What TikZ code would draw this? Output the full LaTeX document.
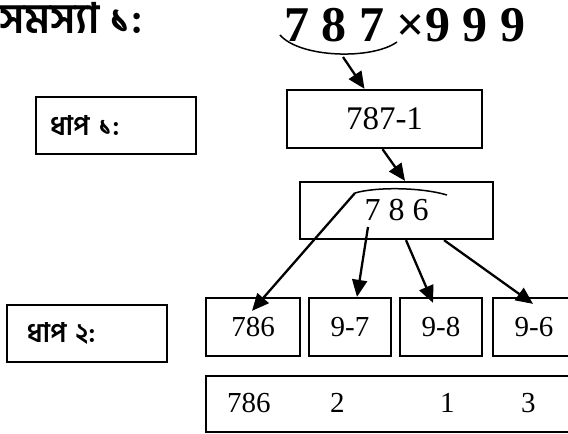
\documentclass[tikz,border=0pt]{standalone}
\usepackage{fontspec}
\setmainfont{Liberation Serif}
\newfontfamily\bnfont[Script=Bengali]{Hind Siliguri}
\usetikzlibrary{arrows.meta, positioning}
\tikzset{
  every picture/.style={line width=2.3pt},
  box/.style={draw, inner sep=0pt, minimum width=#1, minimum height=58pt},
  box/.default=82pt,
  arrow/.style={-{Triangle[length=17pt, width=15pt]}, line width=2.3pt},
  curl/.style={line width=1.5pt},
  num/.style={font=\fontsize{29}{34}\selectfont},
  steplabel/.style={draw, minimum width=160pt, minimum height=57pt, inner ysep=0pt, align=left, font=\bnfont\bfseries\fontsize{27}{32}\selectfont},
}

\begin{document}
\begin{tikzpicture}[x=1pt, y=1pt]
  \useasboundingbox (0,0) rectangle (568,434);
  % heading and the product
  \node[font=\bnfont\bfseries\fontsize{42}{50}\selectfont, anchor=base west, inner sep=0pt] (title) at (-2,400) {সমস্যা ১:};
  \node[font=\bfseries\fontsize{50}{60}\selectfont, anchor=base west, inner sep=0pt] (prod) at (283,392) {7 8 7 ×9 9 9};
  \coordinate (arcfoot) at (343,377);
  \draw[curl] (280,399) .. controls (300,376) and (372,374) .. (397,392);
  % step 1
  \node[steplabel, inner xsep=14pt, text width=132pt] (lab1) at (116,308.5) {ধাপ ১:};
  \node[box=195pt, font=\fontsize{33}{40}\selectfont] (sub) at (384.5,315) {787-1};
  \node[box=193pt, minimum height=57pt, font=\fontsize{32}{38}\selectfont] (mid) at (396.5,223.5) {7 8 6};
  \coordinate (arcleft) at (355,241);
  \coordinate (sevenfoot) at (368,207);
  \draw[curl] (arcleft) .. controls (375,247) and (420,247) .. (447,239);
  \draw[arrow] (arcfoot) -- ([xshift=-20pt]sub.north);
  \draw[arrow] ([xshift=-2pt]sub.south) -- ([xshift=8.5pt]mid.north);
  % step 2
  \node[steplabel, inner xsep=20pt, text width=120pt] (lab2) at (87,100.5) {ধাপ ২:};
  \node[box=94pt, num] (r1) at (253,107) {786};
  \node[box, num] (r2) at (350,107) {9-7};
  \node[box, num] (r3) at (441,107) {9-8};
  \node[box, num] (r4) at (534,107) {9-6};
  \draw[arrow] (arcleft) -- ([shift={(-1pt,-14pt)}]r1.north);
  \draw[arrow] (sevenfoot) -- ([xshift=7pt]r2.north);
  \draw[arrow] ([xshift=9.5pt]mid.south) -- ([shift={(-8pt,-6pt)}]r3.north);
  \draw[arrow] ([xshift=47.5pt]mid.south) -- ([shift={(-1pt,-7pt)}]r4.north);
  % result row
  \node[box=374pt, minimum height=56pt] (res) at (393,30) {};
  \node[num, anchor=base west, inner sep=0pt] (d1) at (226,21) {786};
  \node[num, anchor=base west, inner sep=0pt] (d2) at (329,21) {2};
  \node[num, anchor=base west, inner sep=0pt] (d3) at (439,21) {1};
  \node[num, anchor=base west, inner sep=0pt] (d4) at (520,21) {3};
\end{tikzpicture}
\end{document}
